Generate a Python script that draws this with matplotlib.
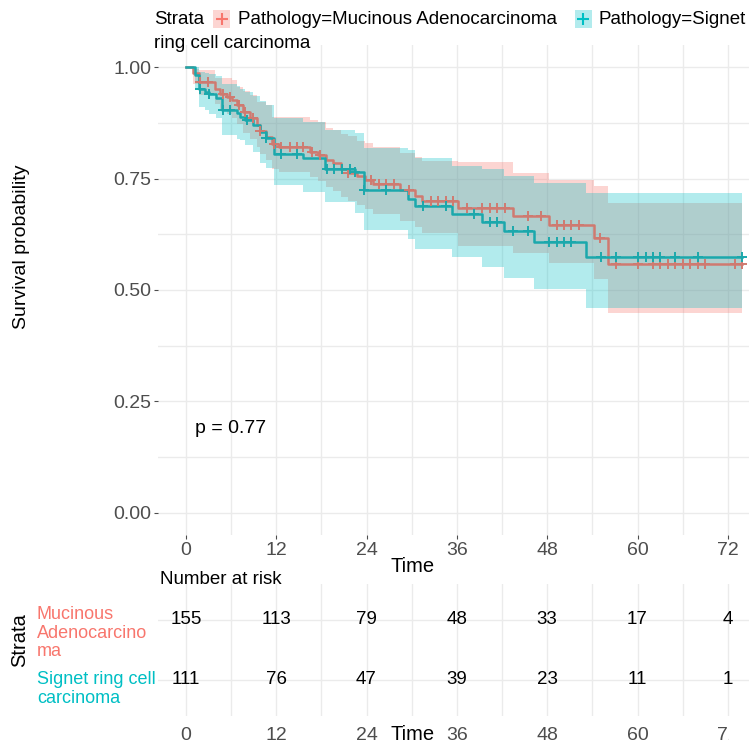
import numpy as np
import matplotlib
matplotlib.use("Agg")
import matplotlib.pyplot as plt
from matplotlib.patches import Rectangle
from matplotlib.transforms import Bbox, TransformedBbox
from matplotlib.lines import Line2D

plt.rcParams['font.family'] = ['Liberation Sans', 'DejaVu Sans']

# Mucinous adenocarcinoma: step times, survival, CI
muc_time = [0, 1.0, 1.8, 3.9, 4.5, 5.5, 6.1, 6.75, 7.6, 8.5, 9.4, 9.8, 10.65, 11.5, 12.4, 16.5, 17.5,
            18.6, 19.5, 20.6, 21.6, 22.8, 23.8, 24.8, 28.5, 30.5, 31.4, 36.2, 43.4, 48.2, 54.2, 56.1]
muc_surv = [1.0, 0.987, 0.967, 0.952, 0.939, 0.933, 0.927, 0.915, 0.899, 0.886, 0.870, 0.857, 0.844, 0.827,
            0.821, 0.810, 0.803, 0.791, 0.784, 0.771, 0.763, 0.755, 0.747, 0.737, 0.724, 0.711, 0.700, 0.683,
            0.666, 0.646, 0.616, 0.558]
muc_lo = [1.0, 0.962, 0.938, 0.918, 0.902, 0.895, 0.886, 0.872, 0.853, 0.838, 0.820, 0.806, 0.792, 0.772,
          0.766, 0.753, 0.745, 0.731, 0.723, 0.709, 0.700, 0.691, 0.682, 0.670, 0.656, 0.641, 0.628, 0.598,
          0.582, 0.560, 0.525, 0.448]
muc_hi = [1.0, 0.997, 0.993, 0.975, 0.975, 0.975, 0.972, 0.956, 0.946, 0.937, 0.922, 0.922, 0.915, 0.889,
          0.889, 0.881, 0.878, 0.863, 0.860, 0.851, 0.845, 0.835, 0.829, 0.820, 0.808, 0.798, 0.790, 0.787,
          0.762, 0.748, 0.733, 0.696]
muc_cens = [1.9, 3.0, 4.9, 5.9, 7.0, 7.9, 8.9, 9.9, 11.7, 12.7, 13.8, 14.7, 15.6, 16.7, 17.8, 21.6, 24.6,
            25.6, 26.6, 27.6, 29.6, 32.5, 33.5, 34.5, 35.5, 37.4, 39.4, 40.4, 41.4, 42.4, 45.4, 47.2, 49.3,
            50.2, 51.2, 52.2, 55.0, 57.1, 60.1, 62.0, 63.0, 64.0, 65.0, 66.0, 67.0, 68.0, 69.0, 72.9, 73.9]

# Signet ring cell carcinoma
sig_time = [0, 1.2, 1.8, 2.5, 3.1, 4.0, 4.75, 6.75, 7.2, 7.9, 8.9, 9.8, 10.7, 11.7, 15.6, 18.5, 22.5, 23.6,
            29.5, 30.5, 35.4, 39.4, 42.3, 46.2, 53.2]
sig_surv = [1.0, 0.982, 0.952, 0.945, 0.939, 0.931, 0.904, 0.898, 0.889, 0.881, 0.870, 0.855, 0.841, 0.806,
            0.797, 0.772, 0.764, 0.724, 0.705, 0.689, 0.670, 0.653, 0.633, 0.608, 0.575]
sig_lo = [1.0, 0.950, 0.911, 0.905, 0.896, 0.886, 0.848, 0.840, 0.836, 0.825, 0.810, 0.784, 0.773, 0.735,
          0.720, 0.698, 0.672, 0.635, 0.614, 0.593, 0.573, 0.552, 0.528, 0.502, 0.459]
sig_hi = [1.0, 1.0, 0.990, 0.988, 0.986, 0.980, 0.962, 0.958, 0.952, 0.944, 0.935, 0.925, 0.915, 0.885,
          0.878, 0.860, 0.852, 0.818, 0.814, 0.797, 0.778, 0.772, 0.757, 0.740, 0.717]
sig_cens = [1.9, 3.1, 5.0, 5.9, 8.1, 10.7, 12.7, 14.7, 18.7, 19.7, 20.7, 21.8, 22.5, 23.6, 26.6, 31.5, 34.5,
            38.3, 40.4, 41.4, 43.4, 45.4, 48.2, 49.3, 50.2, 51.2, 55.1, 57.1, 60.1, 61.1, 62.0, 63.0, 65.0,
            68.0, 73.9]
t_end = 73.9

risk_times = [0, 12, 24, 36, 48, 60, 72]
muc_risk = [155, 113, 79, 48, 33, 17, 4]
sig_risk = [111, 76, 47, 39, 23, 11, 1]

RED = '#F8766D'
TEAL = '#00BFC4'
RED_LINE = '#CF7A70'   # lines look muted under the ribbons in the reference
TEAL_LINE = '#1BA8AC'
GRID = '#EBEBEB'
TICK = '#4D4D4D'
W, H = 749, 745


def fx(px):
    return px / W


def fy(py):
    return 1 - py / H


fig = plt.figure(figsize=(W / 100, H / 100), dpi=100)
ax = fig.add_axes([fx(158), fy(535), (770 - 158) / W, (535 - 45) / H])
xlim = (-3.7, 77.6)

groups = [(muc_time, muc_surv, muc_lo, muc_hi, muc_cens, RED, RED_LINE),
          (sig_time, sig_surv, sig_lo, sig_hi, sig_cens, TEAL, TEAL_LINE)]

for t, s, lo, hi, cens, col, lcol in groups:
    tt = list(t) + [t_end]
    ax.fill_between(tt, list(lo) + [lo[-1]], list(hi) + [hi[-1]], step='post',
                    color=col, alpha=0.3, lw=0, zorder=2)
for t, s, lo, hi, cens, col, lcol in groups:
    tt = list(t) + [t_end]
    ax.step(tt, list(s) + [s[-1]], where='post', color=lcol, lw=1.8, zorder=3)
    idx = np.searchsorted(t, cens, side='right') - 1
    ax.plot(cens, np.array(s)[idx], ls='none', marker='+', ms=7, mew=1.4, color=lcol, zorder=4)

ax.text(1.2, 0.19, 'p = 0.77', fontsize=14, va='center', ha='left')

ax.set_xlim(*xlim)
ax.set_ylim(-0.05, 1.05)
ax.set_xticks(risk_times)
ax.set_xticks(np.arange(6, 78, 12), minor=True)
ax.set_yticks([0, 0.25, 0.5, 0.75, 1.0])
ax.set_yticklabels(['0.00', '0.25', '0.50', '0.75', '1.00'])
ax.set_yticks([0.125, 0.375, 0.625, 0.875], minor=True)
ax.grid(True, which='both', color=GRID, lw=1.0, zorder=0)
ax.set_axisbelow(True)
for sp in ax.spines.values():
    sp.set_visible(False)
ax.tick_params(which='major', length=3, color=TICK, labelcolor=TICK, labelsize=14, pad=2)
ax.tick_params(which='minor', length=0)

fig.text(fx(22), fy(247), 'Survival probability', fontsize=14, rotation=90, ha='center', va='center')
fig.text(fx(413), fy(566), 'Time', fontsize=14.5, ha='center', va='center')

# legend drawn by hand
ly1, ly2 = 19, 43
fig.text(fx(154), fy(ly1), 'Strata', fontsize=13.5, va='center', ha='left')
for cx, col, label in [(222, RED, 'Pathology=Mucinous Adenocarcinoma'),
                       (583, TEAL, 'Pathology=Signet')]:
    fig.patches.append(Rectangle((fx(cx - 8.5), fy(ly1 + 8.5)), 17 / W, 17 / H, transform=fig.transFigure,
                                 facecolor=col, alpha=0.3, lw=0))
    fig.lines.append(Line2D([fx(cx)], [fy(ly1)], transform=fig.transFigure, marker='+', ms=9, mew=1.5,
                            color=col))
    fig.text(fx(cx + 16), fy(ly1), label, fontsize=13.5, va='center', ha='left')
fig.text(fx(154), fy(ly2), 'ring cell carcinoma', fontsize=13.5, va='center', ha='left')

# risk table
tab = fig.add_axes([fx(158), fy(716), (770 - 158) / W, (716 - 584) / H])
tab.set_xlim(*xlim)
tab.set_ylim(0.4, 2.6)
for x, n in zip(risk_times, muc_risk):
    tab.text(x, 2, str(n), ha='center', va='center', fontsize=13.5)
for x, n in zip(risk_times, sig_risk):
    tab.text(x, 1, str(n), ha='center', va='center', fontsize=13.5)
tab.set_xticks(risk_times)
tab.set_xticks(np.arange(6, 78, 12), minor=True)
tab.set_yticks([1, 2])
tab.set_yticklabels([])
tab.grid(True, which='both', axis='x', color=GRID, lw=1.0)
tab.grid(True, which='major', axis='y', color=GRID, lw=1.0)
tab.set_axisbelow(True)
for sp in tab.spines.values():
    sp.set_visible(False)
tab.tick_params(which='both', length=0, labelcolor=TICK, labelsize=14, pad=8)
clip = TransformedBbox(Bbox([[0, 0], [fx(729), 1]]), fig.transFigure)
for lbl in tab.get_xticklabels():
    lbl.set_clip_on(True)
    lbl.set_clip_box(clip)

fig.text(fx(160), fy(580), 'Number at risk', fontsize=13.5, ha='left', va='center')
fig.text(fx(37), fy(633), 'Mucinous\nAdenocarcino\nma', color=RED, fontsize=13,
         ha='left', va='center', linespacing=1.12)
fig.text(fx(37), fy(689), 'Signet ring cell\ncarcinoma', color=TEAL, fontsize=13,
         ha='left', va='center', linespacing=1.12)
fig.text(fx(20), fy(640), 'Strata', fontsize=14.5, rotation=90, ha='center', va='center')
fig.text(fx(413), fy(735), 'Time', fontsize=14.5, ha='center', va='center')

fig.savefig('out.png', dpi=100)
